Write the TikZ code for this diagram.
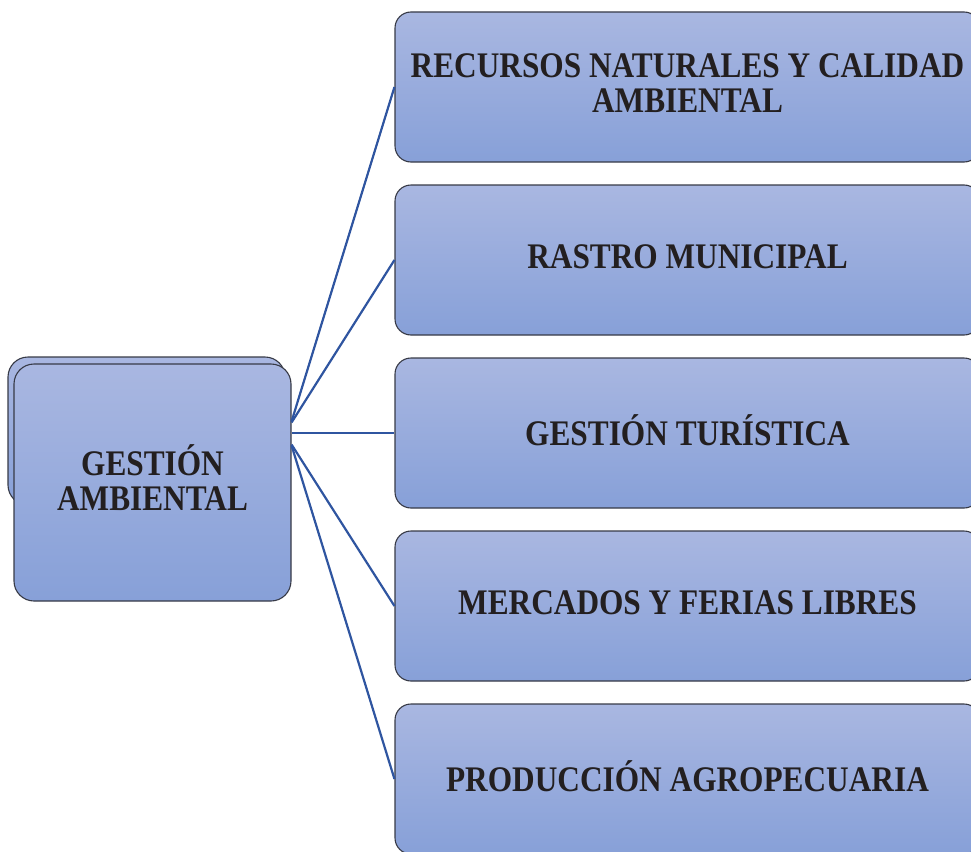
\documentclass[tikz,border=0pt]{standalone}
\usepackage{fontspec}
\setmainfont{Liberation Serif}[FakeStretch=0.87]
\definecolor{boxtop}{RGB}{169,183,225}
\definecolor{boxbot}{RGB}{135,160,216}
\definecolor{boxedge}{RGB}{55,58,70}
\definecolor{linkblue}{RGB}{47,85,160}
\definecolor{txt}{RGB}{35,31,32}
\tikzset{
  sabox/.style={draw=boxedge, line width=1.1pt, rounded corners=16pt,
    top color=boxtop, bottom color=boxbot, shading angle=0,
    align=center, inner sep=0pt, text=txt, text depth=6pt,
    font=\fontsize{36}{35}\selectfont\bfseries},
  link/.style={draw=linkblue, line width=2.2pt}
}
\begin{document}
\begin{tikzpicture}[x=1pt,y=-1pt]
\useasboundingbox (0,0) rectangle (971,851);
\clip (0,0) rectangle (971,851);
% left parent (stacked)
\node[sabox, rounded corners=20pt, minimum width=277pt, minimum height=148pt] (gback) at (146.5,431) {};
\node[sabox, rounded corners=20pt, minimum width=277pt, minimum height=237pt, text depth=10pt] (ga) at (152.5,482.5) {GESTIÓN\\AMBIENTAL};
% children
\node[sabox, minimum width=585pt, minimum height=150pt, text depth=8pt] (r1) at (687.5,87) {RECURSOS NATURALES Y CALIDAD\\AMBIENTAL};
\node[sabox, minimum width=585pt, minimum height=150pt] (r2) at (687.5,260) {RASTRO MUNICIPAL};
\node[sabox, minimum width=585pt, minimum height=150pt] (r3) at (687.5,433) {GESTIÓN TURÍSTICA};
\node[sabox, minimum width=585pt, minimum height=150pt] (r4) at (687.5,606) {MERCADOS Y FERIAS LIBRES};
\node[sabox, minimum width=585pt, minimum height=150pt] (r5) at (687.5,779) {PRODUCCIÓN AGROPECUARIA};
% connectors
\draw[link] ([yshift=61pt]ga.east) -- (r1.west);
\draw[link] ([yshift=60pt]ga.east) -- (r2.west);
\draw[link] ([yshift=49.5pt]ga.east) -- (r3.west);
\draw[link] ([yshift=38pt]ga.east) -- (r4.west);
\draw[link] ([yshift=37pt]ga.east) -- (r5.west);
\end{tikzpicture}
\end{document}
